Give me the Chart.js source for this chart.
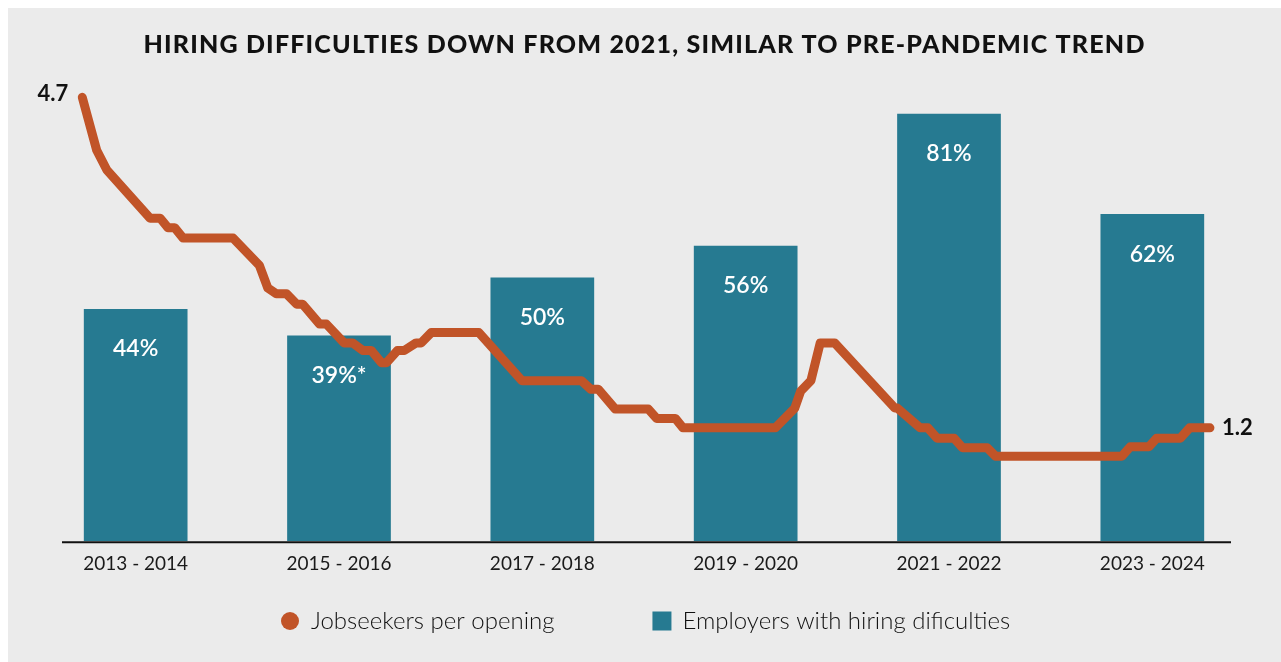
<!DOCTYPE html>
<html>
<head>
<meta charset="utf-8">
<script src="https://cdn.jsdelivr.net/npm/chart.js@4.4.1/dist/chart.umd.min.js"></script>
<style>
  body { margin: 0; padding: 8px 0 0 8px; background: #fff; overflow: hidden; }
  canvas { display: block; background: #ebebeb; }
</style>
</head>
<body>
<canvas id="hiring" width="1273" height="654"></canvas>
<script>
var chartTitle = "HIRING DIFFICULTIES DOWN FROM 2021, SIMILAR TO PRE-PANDEMIC TREND";
var periods = ["2013 - 2014", "2015 - 2016", "2017 - 2018", "2019 - 2020", "2021 - 2022", "2023 - 2024"];
var employersPct = [44, 39, 50, 56, 81, 62];
var pctLabels = ["44%", "39%*", "50%", "56%", "81%", "62%"];

// jobseekers per opening, x = months since Jan 2013
var lineMonths = [5.7, 7.4, 8.6, 13.7, 14.9, 15.8, 16.6, 17.6, 23.5, 26.6,
  27.6, 28.6, 29.8, 31.0, 31.7, 33.7, 34.5, 36.6, 37.6, 38.8,
  39.8, 41.0, 41.6, 42.9, 43.7, 45.1, 45.7, 46.9, 52.5, 57.6,
  64.6, 65.7, 66.6, 68.6, 72.5, 73.5, 75.7, 76.6, 87.5, 89.8,
  90.5, 91.7, 92.8, 94.5, 101.6, 101.9, 104.6, 105.5, 106.6, 108.6,
  109.6, 112.5, 113.5, 128.4, 129.4, 131.6, 132.5, 135.3, 136.4, 138.8];
var jobseekers = [4.7, 4.14, 3.93, 3.42, 3.42, 3.32, 3.32, 3.21, 3.21, 2.92,
  2.68, 2.62, 2.62, 2.51, 2.51, 2.30, 2.30, 2.10, 2.10, 2.02,
  2.02, 1.89, 1.89, 2.02, 2.02, 2.10, 2.10, 2.21, 2.21, 1.70,
  1.70, 1.61, 1.61, 1.40, 1.40, 1.30, 1.30, 1.20, 1.20, 1.41,
  1.59, 1.70, 2.10, 2.10, 1.41, 1.41, 1.20, 1.20, 1.09, 1.09,
  0.99, 0.99, 0.90, 0.90, 1.00, 1.00, 1.09, 1.09, 1.20, 1.20];

var orange = "#c15428";
var teal = "#267a91";

// axis line, labels in bars, first / last line values
var labelPlugin = {
  id: "labels",
  afterDatasetsDraw: function (chart) {
    var ctx = chart.ctx;
    var area = chart.chartArea;
    ctx.save();
    ctx.strokeStyle = "#111";
    ctx.lineWidth = 2;
    ctx.beginPath();
    ctx.moveTo(area.left + 28, area.bottom + 1);
    ctx.lineTo(area.right - 23, area.bottom + 1);
    ctx.stroke();

    ctx.fillStyle = "#fff";
    ctx.font = "600 23px Lato";
    ctx.textAlign = "center";
    ctx.textBaseline = "middle";
    chart.getDatasetMeta(1).data.forEach(function (bar, i) {
      ctx.fillText(pctLabels[i], bar.x, bar.y + 40);
    });

    var pts = chart.getDatasetMeta(0).data;
    var first = pts[0], last = pts[pts.length - 1];
    ctx.fillStyle = "#111";
    ctx.font = "bold 22px Lato";
    ctx.textAlign = "right";
    ctx.fillText(jobseekers[0].toFixed(1), first.x - 14, first.y - 3);
    ctx.textAlign = "left";
    ctx.fillText(jobseekers[jobseekers.length - 1].toFixed(1), last.x + 12, last.y);
    ctx.restore();
  }
};

// title (letter-spaced) and legend row under the axis
var titleLegendPlugin = {
  id: "titleLegend",
  afterDraw: function (chart) {
    var ctx = chart.ctx;
    ctx.save();
    ctx.fillStyle = "#111";
    ctx.font = "900 25px Lato";
    ctx.letterSpacing = "1.2px";
    ctx.textAlign = "center";
    ctx.textBaseline = "middle";
    ctx.fillText(chartTitle, chart.width / 2, 37);
    ctx.letterSpacing = "0px";

    var y = chart.height - 41;
    var x = 273;
    ctx.font = "300 24px Lato";
    ctx.textAlign = "left";
    chart.data.datasets.forEach(function (ds) {
      ctx.fillStyle = ds.backgroundColor;
      if (ds.type === "line") {
        ctx.beginPath();
        ctx.arc(x + 9, y, 9, 0, Math.PI * 2);
        ctx.fill();
      } else {
        ctx.fillRect(x, y - 9.5, 19, 19);
      }
      ctx.fillStyle = "#111";
      ctx.fillText(ds.label, x + 30, y);
      x += 30 + ctx.measureText(ds.label).width + 98;
    });
    ctx.restore();
  }
};

var ctx = document.getElementById("hiring").getContext("2d");
var myChart = new Chart(ctx, {
  type: "bar",
  data: {
    labels: periods,
    datasets: [
      {
        type: "line",
        label: "Jobseekers per opening",
        data: lineMonths.map(function (m, i) { return { x: m, y: jobseekers[i] }; }),
        xAxisID: "x2",
        yAxisID: "y2",
        borderColor: orange,
        backgroundColor: orange,
        borderWidth: 9,
        borderJoinStyle: "round",
        borderCapStyle: "round",
        pointRadius: 0,
        tension: 0,
        order: 0,
      },
      {
        label: "Employers with hiring dificulties",
        data: employersPct,
        backgroundColor: teal,
        grouped: false,
        categoryPercentage: 1,
        barPercentage: 0.51,
        order: 1,
      },
    ],
  },
  options: {
    responsive: false,
    animation: false,
    layout: { padding: { left: 26, right: 27, top: 61, bottom: 76 } },
    scales: {
      x: {
        grid: { display: false, drawTicks: false },
        border: { display: false },
        ticks: { color: "#1a1a1a", font: { family: "Lato", size: 19 }, padding: 11 },
      },
      x2: { type: "linear", min: 0, max: 144, offset: false, grid: { offset: false }, display: false },
      y: { min: 0, max: 89.5, display: false },
      y2: { min: 0, max: 5, display: false },
    },
    plugins: {
      legend: { display: false },
      tooltip: { enabled: false },
    },
  },
  plugins: [labelPlugin, titleLegendPlugin],
});
</script>
</body>
</html>
